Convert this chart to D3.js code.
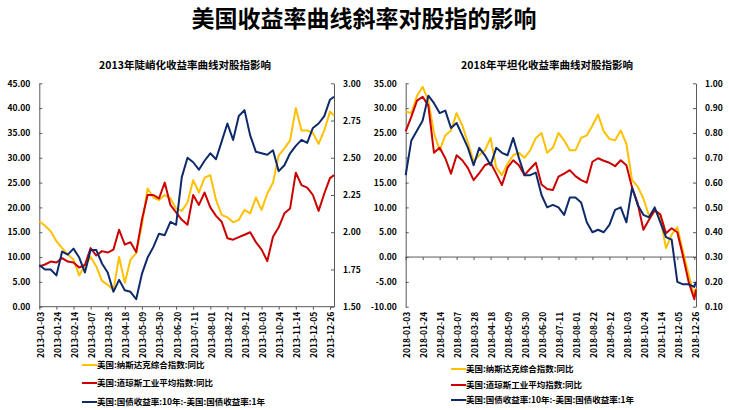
<!DOCTYPE html>
<html>
<head>
<meta charset="utf-8">
<script src="https://cdn.jsdelivr.net/npm/d3@7"></script>
<style>
  body { margin: 0; background: #fff; }
  svg text { font-family: "Noto Sans CJK SC", "Noto Sans", sans-serif; font-weight: bold; fill: #000; }
</style>
</head>
<body>
<svg id="chart" width="729" height="410"></svg>
<script>
// weekly sample days, same month-day list for both years
var weeks = ["01-03","01-10","01-17","01-24","01-31","02-07","02-14","02-21","02-28","03-07","03-14","03-21","03-28",
  "04-04","04-11","04-18","04-25","05-02","05-09","05-16","05-23","05-30","06-06","06-13","06-20","06-27",
  "07-04","07-11","07-18","07-25","08-01","08-08","08-15","08-22","08-29","09-05","09-12","09-19","09-26",
  "10-03","10-10","10-17","10-24","10-31","11-07","11-14","11-21","11-28","12-05","12-12","12-19","12-26"];
var tickDays = ["01-03","01-24","02-14","03-07","03-28","04-18","05-09","05-30","06-20","07-11","08-01","08-22",
  "09-12","10-03","10-24","11-14","12-05","12-26"];
var seriesNames = ["美国:纳斯达克综合指数:同比","美国:道琼斯工业平均指数:同比","美国:国债收益率:10年:-美国:国债收益率:1年"];
var seriesColors = ["#FFC000","#CC0000","#0E2A6B"];

// 2013, last point is 12-31
var nasdaq13 = [17.2,16.3,15.2,13.2,11.8,10.5,9.5,6.3,8.3,10.0,8.1,5.2,4.4,3.4,10.0,4.8,9.5,10.8,16.5,23.8,22.0,21.5,22.5,21.8,
  19.8,19.3,21.0,25.5,23.0,26.0,26.5,21.5,18.5,18.0,17.0,17.5,19.5,18.8,22.0,19.5,22.8,25.0,30.5,31.9,33.5,40.0,35.5,35.5,
  35.0,32.8,35.5,39.3,38.5];
var dow13 = [8.1,8.5,9.1,8.9,9.8,9.1,8.9,7.9,8.4,11.8,10.3,11.2,10.9,11.5,15.5,12.5,13.0,11.0,17.5,22.5,22.5,21.8,25.0,20.5,
  19.0,17.5,16.5,22.5,20.5,23.0,20.0,18.3,17.1,13.8,13.5,14.0,14.5,15.0,13.0,11.5,9.2,14.1,16.0,18.8,19.8,27.0,24.5,24.0,
  22.5,19.3,22.8,25.9,26.5];
var spread13 = [1.78,1.75,1.75,1.71,1.87,1.85,1.89,1.83,1.73,1.88,1.88,1.79,1.73,1.60,1.68,1.61,1.60,1.55,1.72,1.83,1.90,
  1.99,1.98,2.07,2.05,2.37,2.50,2.47,2.42,2.48,2.53,2.49,2.61,2.73,2.62,2.78,2.82,2.65,2.54,2.53,2.52,2.55,2.41,2.45,2.53,
  2.58,2.62,2.60,2.70,2.73,2.78,2.89,2.91];

// 2018, last point is 12-28
var nasdaq18 = [29.3,29.0,32.5,34.3,31.5,25.0,21.5,24.5,25.5,29.0,26.5,23.0,19.3,20.5,21.5,24.0,18.0,16.5,18.8,20.5,21.0,20.0,
  21.5,24.0,25.0,21.0,22.0,25.0,23.5,21.5,21.5,24.0,24.5,26.5,28.7,25.3,23.8,23.5,25.5,22.8,15.5,14.2,11.8,8.3,9.6,7.8,
  1.8,4.5,6.0,1.1,-3.5,-8.0,-6.3];
var dow18 = [25.3,28.3,31.5,32.3,30.5,21.0,22.0,19.9,16.8,20.5,19.5,17.9,15.5,16.9,18.5,19.0,16.8,14.5,18.0,19.5,18.5,16.5,
  17.8,19.0,14.6,13.7,13.5,16.2,16.8,17.5,16.3,15.5,15.0,19.2,19.9,19.4,19.0,18.3,19.5,18.5,14.0,10.8,5.5,7.5,9.4,8.6,
  4.8,5.8,5.0,0.2,-5.0,-8.5,-6.5];
var spread18 = [0.63,0.77,0.81,0.85,0.95,0.92,0.88,0.89,0.82,0.84,0.79,0.74,0.67,0.74,0.71,0.67,0.74,0.72,0.71,0.78,0.70,
  0.63,0.63,0.64,0.55,0.50,0.51,0.50,0.47,0.54,0.54,0.52,0.44,0.40,0.41,0.40,0.43,0.49,0.50,0.44,0.58,0.51,0.47,0.46,0.50,
  0.44,0.38,0.37,0.20,0.19,0.19,0.18,0.20];

var leftTicks13 = [0,5,10,15,20,25,30,35,40,45];
var rightTicks13 = [1.5,1.75,2.0,2.25,2.5,2.75,3.0];
var leftTicks18 = [-10,-5,0,5,10,15,20,25,30,35];
var rightTicks18 = [0.1,0.2,0.3,0.4,0.5,0.6,0.7,0.8,0.9,1.0];

var svg = d3.select("#chart");
var parse = d3.timeParse("%Y-%m-%d");
var fmt2 = function(d){ return d.toFixed(2); };
var axisColor = "#595959";

svg.append("text")
  .attr("x", 364).attr("y", 27)
  .attr("text-anchor", "middle")
  .style("font-size", "23px")
  .text("美国收益率曲线斜率对股指的影响");

function drawPanel(p){
  var dates = weeks.map(function(w){ return parse(p.year + "-" + w); });
  dates.push(parse(p.year + "-" + p.lastDay));
  var ticks = tickDays.map(function(w){ return parse(p.year + "-" + w); });

  var x = d3.scaleTime()
    .domain([parse(p.year + "-01-03"), parse(p.year + "-12-26")])
    .range([p.left, p.lastTick]);
  var yL = d3.scaleLinear().domain(p.leftDomain).range([306.7, 83.3]);
  var yR = d3.scaleLinear().domain(p.rightDomain).range([306.7, 83.3]);

  var g = svg.append("g");

  g.append("text")
    .attr("x", p.titleX).attr("y", 69)
    .attr("text-anchor", "middle")
    .style("font-size", "10.5px")
    .text(p.title);

  // left axis, ticks inside
  var la = g.append("g")
    .attr("transform", "translate(" + p.left + ",0)")
    .call(d3.axisLeft(yL).tickValues(p.leftTicks).tickFormat(fmt2)
      .tickSizeInner(-3).tickSizeOuter(0).tickPadding(9));
  // right axis
  var ra = g.append("g")
    .attr("transform", "translate(" + p.right + ",0)")
    .call(d3.axisRight(yR).tickValues(p.rightTicks).tickFormat(fmt2)
      .tickSizeInner(-3).tickSizeOuter(0).tickPadding(9));

  // category axis line sits at zero, labels stay at the bottom
  var xa = g.append("g")
    .attr("transform", "translate(0," + yL(0) + ")")
    .call(d3.axisBottom(x).tickValues(ticks).tickFormat("").tickSizeInner(3).tickSizeOuter(0));
  xa.select(".domain").attr("d", "M" + p.left + ",0H" + p.right);

  var xl = g.append("g")
    .attr("transform", "translate(0,306.7)")
    .call(d3.axisBottom(x).tickValues(ticks).tickFormat(d3.timeFormat("%Y-%m-%d")).tickSize(0));
  xl.select(".domain").remove();
  xl.selectAll("text")
    .attr("transform", "rotate(-90)")
    .attr("x", -5).attr("y", 1)
    .attr("dy", "0.35em")
    .style("text-anchor", "end");

  [la, ra, xa, xl].forEach(function(a){
    a.selectAll("path, line").attr("stroke", axisColor);
    a.selectAll("text").style("font-size", "8.5px").attr("fill", "#000");
  });

  var lineL = d3.line().x(function(d, i){ return x(dates[i]); }).y(function(d){ return yL(d); });
  var lineR = d3.line().x(function(d, i){ return x(dates[i]); }).y(function(d){ return yR(d); });

  var paths = [[p.nasdaq, lineL], [p.dow, lineL], [p.spread, lineR]];
  paths.forEach(function(s, i){
    g.append("path")
      .datum(s[0])
      .attr("d", s[1])
      .attr("fill", "none")
      .attr("stroke", seriesColors[i])
      .attr("stroke-width", 2)
      .attr("stroke-linejoin", "round");
  });

  // legend
  seriesNames.forEach(function(name, i){
    var ly = p.legendY[i];
    g.append("line")
      .attr("x1", p.legendX).attr("x2", p.legendX + 15)
      .attr("y1", ly).attr("y2", ly)
      .attr("stroke", seriesColors[i]).attr("stroke-width", 2);
    g.append("text")
      .attr("x", p.legendX + 15).attr("y", ly)
      .attr("dy", "0.35em")
      .style("font-size", "8.5px")
      .text(name);
  });
}

drawPanel({
  year: "2013", lastDay: "12-31",
  title: "2013年陡峭化收益率曲线对股指影响", titleX: 185,
  nasdaq: nasdaq13, dow: dow13, spread: spread13,
  leftDomain: [0, 45], rightDomain: [1.5, 3.0],
  leftTicks: leftTicks13, rightTicks: rightTicks13,
  left: 39.3, lastTick: 330, right: 334,
  legendX: 82, legendY: [365, 383, 402]
});

drawPanel({
  year: "2018", lastDay: "12-28",
  title: "2018年平坦化收益率曲线对股指影响", titleX: 547,
  nasdaq: nasdaq18, dow: dow18, spread: spread18,
  leftDomain: [-10, 35], rightDomain: [0.1, 1.0],
  leftTicks: leftTicks18, rightTicks: rightTicks18,
  left: 405.7, lastTick: 694.3, right: 696,
  legendX: 451, legendY: [369, 385, 400]
});
</script>
</body>
</html>
